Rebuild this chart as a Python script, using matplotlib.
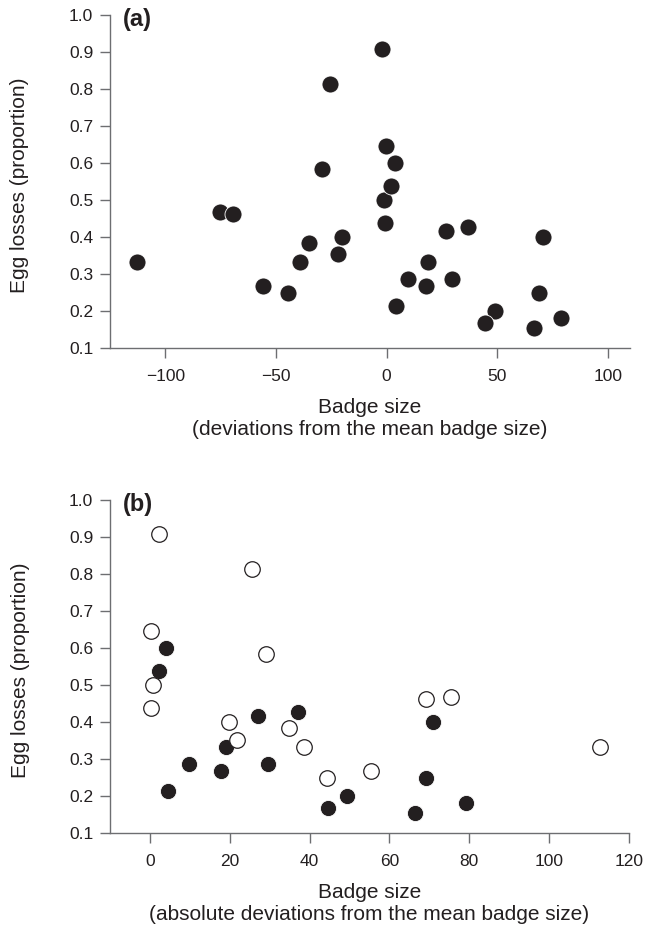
#!/usr/bin/env python3
"""Egg losses against badge size: raw deviations (a) and absolute deviations (b)."""

import matplotlib
matplotlib.use("Agg")
import matplotlib.pyplot as plt

plt.rcParams["font.family"] = ["Liberation Sans", "DejaVu Sans"]

# Panel (a): deviation from the mean badge size vs. proportion of eggs lost
dev_a = [-113, -75.5, -69.3, -55.7, -44.5, -39.2, -35.1, -22.1, -20.1, -29.4,
         -25.7, -2.3, -0.3, -1.0, -0.6, 4.0, 2.1, 26.9, 36.8, 70.5,
         18.7, 9.8, 17.6, 29.5, 4.3, 68.9, 49.2, 44.5, 78.9, 66.4]
loss_a = [0.333, 0.467, 0.462, 0.267, 0.250, 0.333, 0.385, 0.353, 0.400, 0.583,
          0.814, 0.909, 0.647, 0.500, 0.438, 0.600, 0.538, 0.417, 0.428, 0.400,
          0.333, 0.286, 0.267, 0.286, 0.214, 0.250, 0.200, 0.167, 0.182, 0.153]

# Panel (b): absolute deviations; open = below mean, filled = above mean
abs_open = [2.2, 25.5, 0.2, 29.1, 0.8, 0.3, 19.9, 21.8, 34.8, 38.7,
            44.4, 55.4, 69.2, 75.3, 112.7]
loss_open = [0.908, 0.813, 0.646, 0.583, 0.500, 0.437, 0.400, 0.352, 0.385, 0.332,
             0.249, 0.268, 0.461, 0.467, 0.332]
abs_filled = [4.0, 2.3, 27.0, 37.0, 19.0, 9.9, 17.9, 29.6, 4.5, 49.3,
              44.7, 70.8, 69.2, 79.1, 66.5]
loss_filled = [0.600, 0.538, 0.417, 0.428, 0.332, 0.286, 0.267, 0.286, 0.214, 0.200,
               0.168, 0.399, 0.248, 0.182, 0.153]

yticks = [0.1, 0.2, 0.3, 0.4, 0.5, 0.6, 0.7, 0.8, 0.9, 1.0]
xticks_a = [-100, -50, 0, 50, 100]
xticks_b = [0, 20, 40, 60, 80, 100, 120]

DARK = "#231f20"
AXIS = "#6d6e71"


def style_axes(ax):
    for side in ("top", "right"):
        ax.spines[side].set_visible(False)
    for side in ("left", "bottom"):
        ax.spines[side].set_color(AXIS)
        ax.spines[side].set_linewidth(1.0)
    ax.tick_params(axis="both", direction="out", length=7, width=1.0,
                   color=AXIS, labelcolor=DARK, labelsize=12.5)
    ax.tick_params(axis="x", pad=8)
    ax.tick_params(axis="y", pad=5)
    ax.set_ylim(0.1, 1.0)
    ax.set_yticks(yticks)
    ax.set_yticklabels([f"{v:.1f}" for v in yticks])
    ax.set_ylabel("Egg losses (proportion)", fontsize=15, color=DARK)
    ax.yaxis.set_label_coords(-0.155, 0.49)


fig = plt.figure(figsize=(6.46, 9.34), dpi=100)
ax_a = fig.add_axes([0.1703, 0.6274, 0.805, 0.3565])
ax_b = fig.add_axes([0.1703, 0.1081, 0.8034, 0.3565])

# (a)
ax_a.scatter(dev_a, loss_a, s=150, color=DARK, edgecolors="white",
             linewidths=0.6, zorder=3, clip_on=False)
ax_a.set_xlim(-125, 110)
ax_a.set_xticks(xticks_a)
style_axes(ax_a)
ax_a.set_xlabel("Badge size\n(deviations from the mean badge size)",
                fontsize=15, color=DARK, labelpad=10, linespacing=1.2)
ax_a.text(0.025, 1.022, "(a)", transform=ax_a.transAxes, fontsize=17,
          fontweight="bold", color=DARK, ha="left", va="top")

# (b)
ax_b.scatter(abs_filled, loss_filled, s=135, color=DARK, edgecolors="white",
             linewidths=0.6, zorder=3, clip_on=False)
ax_b.scatter(abs_open, loss_open, s=125, facecolors="white", edgecolors=DARK,
             linewidths=0.9, zorder=4, clip_on=False)
ax_b.set_xlim(-10, 120)
ax_b.set_xticks(xticks_b)
style_axes(ax_b)
ax_b.set_xlabel("Badge size\n(absolute deviations from the mean badge size)",
                fontsize=15, color=DARK, labelpad=10, linespacing=1.2)
ax_b.text(0.025, 1.022, "(b)", transform=ax_b.transAxes, fontsize=17,
          fontweight="bold", color=DARK, ha="left", va="top")

fig.savefig("out.png", dpi=100)
